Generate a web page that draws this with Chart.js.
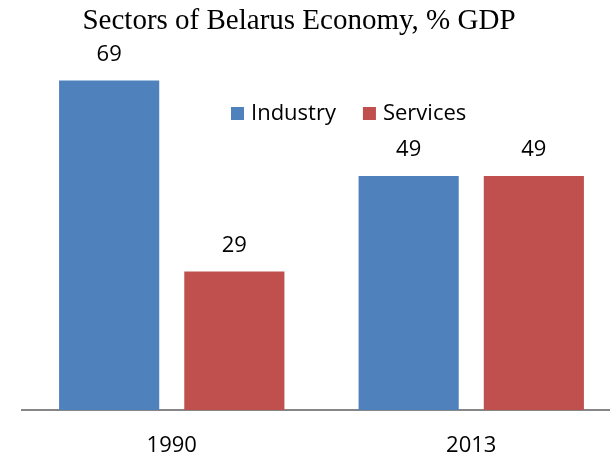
<!DOCTYPE html>
<html>
<head>
<meta charset="utf-8">
<script src="https://cdn.jsdelivr.net/npm/chart.js@4.4.0/dist/chart.umd.min.js"></script>
<style>
  html, body { margin: 0; padding: 0; background: #fff; overflow: hidden; }
  #wrap { width: 625px; height: 457px; }
</style>
</head>
<body>
<div id="wrap"><canvas id="sectorsChart"></canvas></div>
<script>
// Chart data
const years = ['1990', '2013'];
const industry = [69, 49];
const services = [29, 49];
const seriesNames = ['Industry', 'Services'];
const seriesColors = ['#4F81BD', '#C0504D'];
const chartTitle = 'Sectors of Belarus Economy, % GDP';

const sansFont = '"Open Sans", "Liberation Sans", sans-serif';

// title, centred over the plot like the original
const titleText = {
    id: 'titleText',
    afterDraw(chart) {
        const ctx = chart.ctx;
        ctx.save();
        ctx.font = '29px "Liberation Serif", "Times New Roman", serif';
        ctx.fillStyle = '#000';
        ctx.textAlign = 'center';
        ctx.textBaseline = 'alphabetic';
        ctx.fillText(chartTitle, 299, 28.5);
        ctx.restore();
    }
};

// value labels above each bar
const valueLabels = {
    id: 'valueLabels',
    afterDatasetsDraw(chart) {
        const ctx = chart.ctx;
        ctx.save();
        ctx.font = '22px ' + sansFont;
        ctx.fillStyle = '#000';
        ctx.textAlign = 'center';
        ctx.textBaseline = 'middle';
        chart.data.datasets.forEach((ds, i) => {
            chart.getDatasetMeta(i).data.forEach((bar, j) => {
                ctx.fillText(ds.data[j], bar.x, bar.y - 26);
            });
        });
        ctx.restore();
    }
};

// legend drawn inside the plot area
const innerLegend = {
    id: 'innerLegend',
    afterDraw(chart) {
        const ctx = chart.ctx;
        ctx.save();
        ctx.font = '22px ' + sansFont;
        ctx.textBaseline = 'middle';
        ctx.textAlign = 'left';
        let x = 231;
        const y = 114;
        chart.data.datasets.forEach(ds => {
            ctx.fillStyle = ds.backgroundColor;
            ctx.fillRect(x, y - 7, 13, 13);
            ctx.fillStyle = '#000';
            ctx.fillText(ds.label, x + 20, y);
            x += 20 + ctx.measureText(ds.label).width + 27;
        });
        ctx.restore();
    }
};

new Chart(document.getElementById('sectorsChart'), {
    type: 'bar',
    data: {
        labels: years,
        datasets: [
            { label: seriesNames[0], data: industry, backgroundColor: seriesColors[0] },
            { label: seriesNames[1], data: services, backgroundColor: seriesColors[1] }
        ]
    },
    options: {
        responsive: true,
        maintainAspectRatio: false,
        animation: false,
        categoryPercentage: 0.836,
        barPercentage: 0.8,
        layout: { padding: { left: 22, right: 4, top: 28, bottom: 0 } },
        plugins: {
            legend: { display: false },
            tooltip: { enabled: false },
            title: { display: false }
        },
        scales: {
            x: {
                grid: { display: false, drawTicks: true, tickLength: 25 },
                border: { display: true, color: '#868686', width: 2 },
                ticks: {
                    color: '#000',
                    padding: 0,
                    font: { family: sansFont, size: 22, lineHeight: 1 }
                }
            },
            y: {
                display: false,
                min: 0,
                max: 80
            }
        }
    },
    plugins: [valueLabels, innerLegend, titleText]
});
</script>
</body>
</html>
